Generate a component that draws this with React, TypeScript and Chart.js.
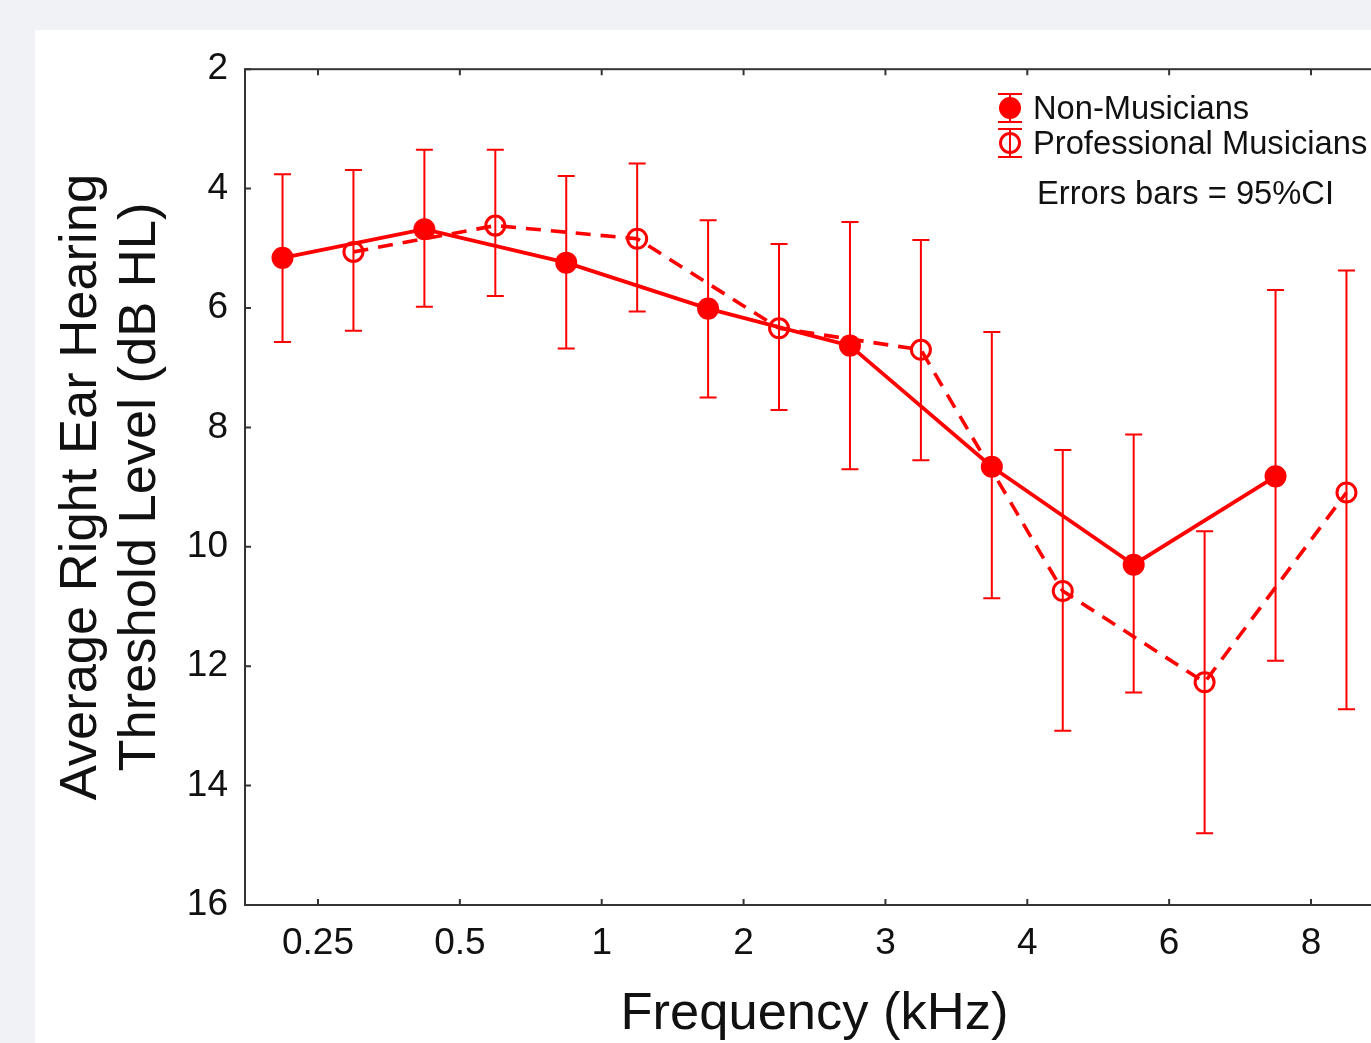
import React, { useEffect, useRef } from "react";
import { Chart, registerables } from "chart.js";

Chart.register(...registerables);

// ---- data ----
const frequencies = ["0.25", "0.5", "1", "2", "3", "4", "6", "8"];
const nonMusMean = [5.16, 4.68, 5.24, 6.01, 6.63, 8.66, 10.3, 8.82];
const nonMusLow = [3.76, 3.35, 3.79, 4.53, 4.56, 6.4, 8.12, 5.7];
const nonMusHigh = [6.57, 5.98, 6.68, 7.5, 8.7, 10.86, 12.44, 11.91];
const proMean = [5.06, 4.62, 4.84, 6.34, 6.7, 10.74, 12.27, 9.09];
const proLow = [3.69, 3.35, 3.58, 4.93, 4.86, 8.38, 9.74, 5.37];
const proHigh = [6.38, 5.8, 6.06, 7.71, 8.55, 13.08, 14.8, 12.72];
const yTicks = [2, 4, 6, 8, 10, 12, 14, 16];
const seriesNames = ["Non-Musicians", "Professional Musicians"];
const noteText = "Errors bars = 95%CI";
const xTitle = "Frequency (kHz)";
const yTitle = ["Average Right Ear Hearing", "Threshold Level (dB HL)"];

const RED = "#ff0000";
const FONT = 'Arial, "Liberation Sans", Helvetica, sans-serif';
const OFFSET = 0.25;
const W = 1400;
const H = 1013;

export default function App() {
  const ref = useRef<HTMLCanvasElement>(null);

  useEffect(() => {
    const canvas = ref.current!;
    const lows = [nonMusLow, proLow];
    const highs = [nonMusHigh, proHigh];

    const framePlugin = {
      id: "frame",
      beforeDatasetsDraw(chart: any) {
        const { ctx, chartArea: a, scales } = chart;
        ctx.save();
        ctx.strokeStyle = "#333";
        ctx.lineWidth = 2;
        ctx.strokeRect(a.left, a.top, a.right - a.left, a.bottom - a.top);
        const tl = 6;
        ctx.beginPath();
        frequencies.forEach((_, i) => {
          const px = scales.x.getPixelForValue(i + 1);
          ctx.moveTo(px, a.bottom);
          ctx.lineTo(px, a.bottom - tl);
          ctx.moveTo(px, a.top);
          ctx.lineTo(px, a.top + tl);
        });
        yTicks.forEach((v) => {
          const py = scales.y.getPixelForValue(v);
          ctx.moveTo(a.left, py);
          ctx.lineTo(a.left + tl, py);
          ctx.moveTo(a.right, py);
          ctx.lineTo(a.right - tl, py);
        });
        ctx.stroke();
        ctx.restore();
      },
    };

    const errorBarPlugin = {
      id: "errorBars",
      beforeDatasetsDraw(chart: any) {
        const { ctx, scales } = chart;
        ctx.save();
        ctx.strokeStyle = RED;
        ctx.lineWidth = 2;
        const cap = 8.5;
        [0, 1].forEach((d) => {
          frequencies.forEach((_, i) => {
            const xv = i + 1 + (d === 0 ? -OFFSET : OFFSET);
            const px = scales.x.getPixelForValue(xv);
            const y1 = scales.y.getPixelForValue(lows[d][i]);
            const y2 = scales.y.getPixelForValue(highs[d][i]);
            ctx.beginPath();
            ctx.moveTo(px, y1);
            ctx.lineTo(px, y2);
            ctx.moveTo(px - cap, y1);
            ctx.lineTo(px + cap, y1);
            ctx.moveTo(px - cap, y2);
            ctx.lineTo(px + cap, y2);
            ctx.stroke();
          });
        });
        ctx.restore();
      },
    };

    const legendPlugin = {
      id: "customLegend",
      afterDraw(chart: any) {
        const { ctx } = chart;
        ctx.save();
        const mx = 975;
        const rows = [78, 113];
        rows.forEach((ry, k) => {
          ctx.strokeStyle = RED;
          ctx.lineWidth = 2;
          ctx.beginPath();
          ctx.moveTo(mx, ry - 14);
          ctx.lineTo(mx, ry + 14);
          ctx.moveTo(mx - 12, ry - 14);
          ctx.lineTo(mx + 12, ry - 14);
          ctx.moveTo(mx - 12, ry + 14);
          ctx.lineTo(mx + 12, ry + 14);
          ctx.stroke();
          ctx.beginPath();
          if (k === 0) {
            ctx.fillStyle = RED;
            ctx.arc(mx, ry, 11, 0, Math.PI * 2);
            ctx.fill();
          } else {
            ctx.lineWidth = 3;
            ctx.arc(mx, ry, 9.5, 0, Math.PI * 2);
            ctx.stroke();
          }
          ctx.fillStyle = "#111";
          ctx.font = `32.7px ${FONT}`;
          ctx.textAlign = "left";
          ctx.textBaseline = "middle";
          ctx.fillText(seriesNames[k], 998, ry + 2);
        });
        ctx.fillText(noteText, 1002, 165);
        ctx.restore();
      },
    };

    const chart = new Chart(canvas, {
      type: "line",
      data: {
        datasets: [
          {
            label: seriesNames[0],
            data: frequencies.map((_, i) => ({ x: i + 1 - OFFSET, y: nonMusMean[i] })),
            borderColor: RED,
            borderWidth: 3.8,
            pointRadius: 11,
            pointBackgroundColor: RED,
            pointBorderColor: RED,
            pointBorderWidth: 0,
            tension: 0,
          },
          {
            label: seriesNames[1],
            data: frequencies.map((_, i) => ({ x: i + 1 + OFFSET, y: proMean[i] })),
            borderColor: RED,
            borderWidth: 3.6,
            borderDash: [15, 10],
            pointRadius: 9.5,
            pointBackgroundColor: "rgba(0,0,0,0)",
            pointBorderColor: RED,
            pointBorderWidth: 3,
            tension: 0,
          },
        ],
      },
      options: {
        animation: false,
        responsive: false,
        layout: { padding: { top: 38, right: 51, bottom: 0, left: 0 } },
        plugins: {
          legend: { display: false },
          tooltip: { enabled: false },
        },
        scales: {
          x: {
            type: "linear",
            min: 0.4855,
            max: 8.5145,
            grid: { display: false, drawTicks: false },
            border: { display: false },
            afterBuildTicks: (s: any) => {
              s.ticks = frequencies.map((_, i) => ({ value: i + 1 }));
            },
            afterFit: (s: any) => {
              s.height = 138;
            },
            ticks: {
              autoSkip: false,
              maxRotation: 0,
              padding: 17,
              color: "#111",
              font: { family: FONT, size: 37 },
              callback: (v: any) => frequencies[Math.round(v) - 1] ?? "",
            },
            title: {
              display: true,
              text: xTitle,
              color: "#111",
              font: { family: FONT, size: 52.5, lineHeight: 1 },
              padding: { top: 0, bottom: 2 },
            },
          },
          y: {
            type: "linear",
            reverse: true,
            min: 2,
            max: 16,
            grid: { display: false, drawTicks: false },
            border: { display: false },
            afterBuildTicks: (s: any) => {
              s.ticks = yTicks.map((v) => ({ value: v }));
            },
            afterFit: (s: any) => {
              s.width = 210;
            },
            ticks: {
              padding: 17,
              color: "#111",
              font: { family: FONT, size: 37 },
            },
            title: {
              display: true,
              text: yTitle,
              color: "#111",
              font: { family: FONT, size: 52.5, lineHeight: 1.105 },
              padding: { top: 18, bottom: 0 },
            },
          },
        },
      },
      plugins: [framePlugin, errorBarPlugin, legendPlugin],
    } as any);

    return () => chart.destroy();
  }, []);

  return (
    <div
      style={{
        position: "fixed",
        left: 0,
        top: 0,
        right: 0,
        bottom: 0,
        background: "#f0f2f5",
        overflow: "hidden",
      }}
    >
      <div
        style={{
          position: "absolute",
          left: 35,
          top: 30,
          width: W,
          height: H,
          background: "#ffffff",
        }}
      >
        <canvas ref={ref} width={W} height={H} style={{ display: "block", width: W, height: H }} />
      </div>
    </div>
  );
}
